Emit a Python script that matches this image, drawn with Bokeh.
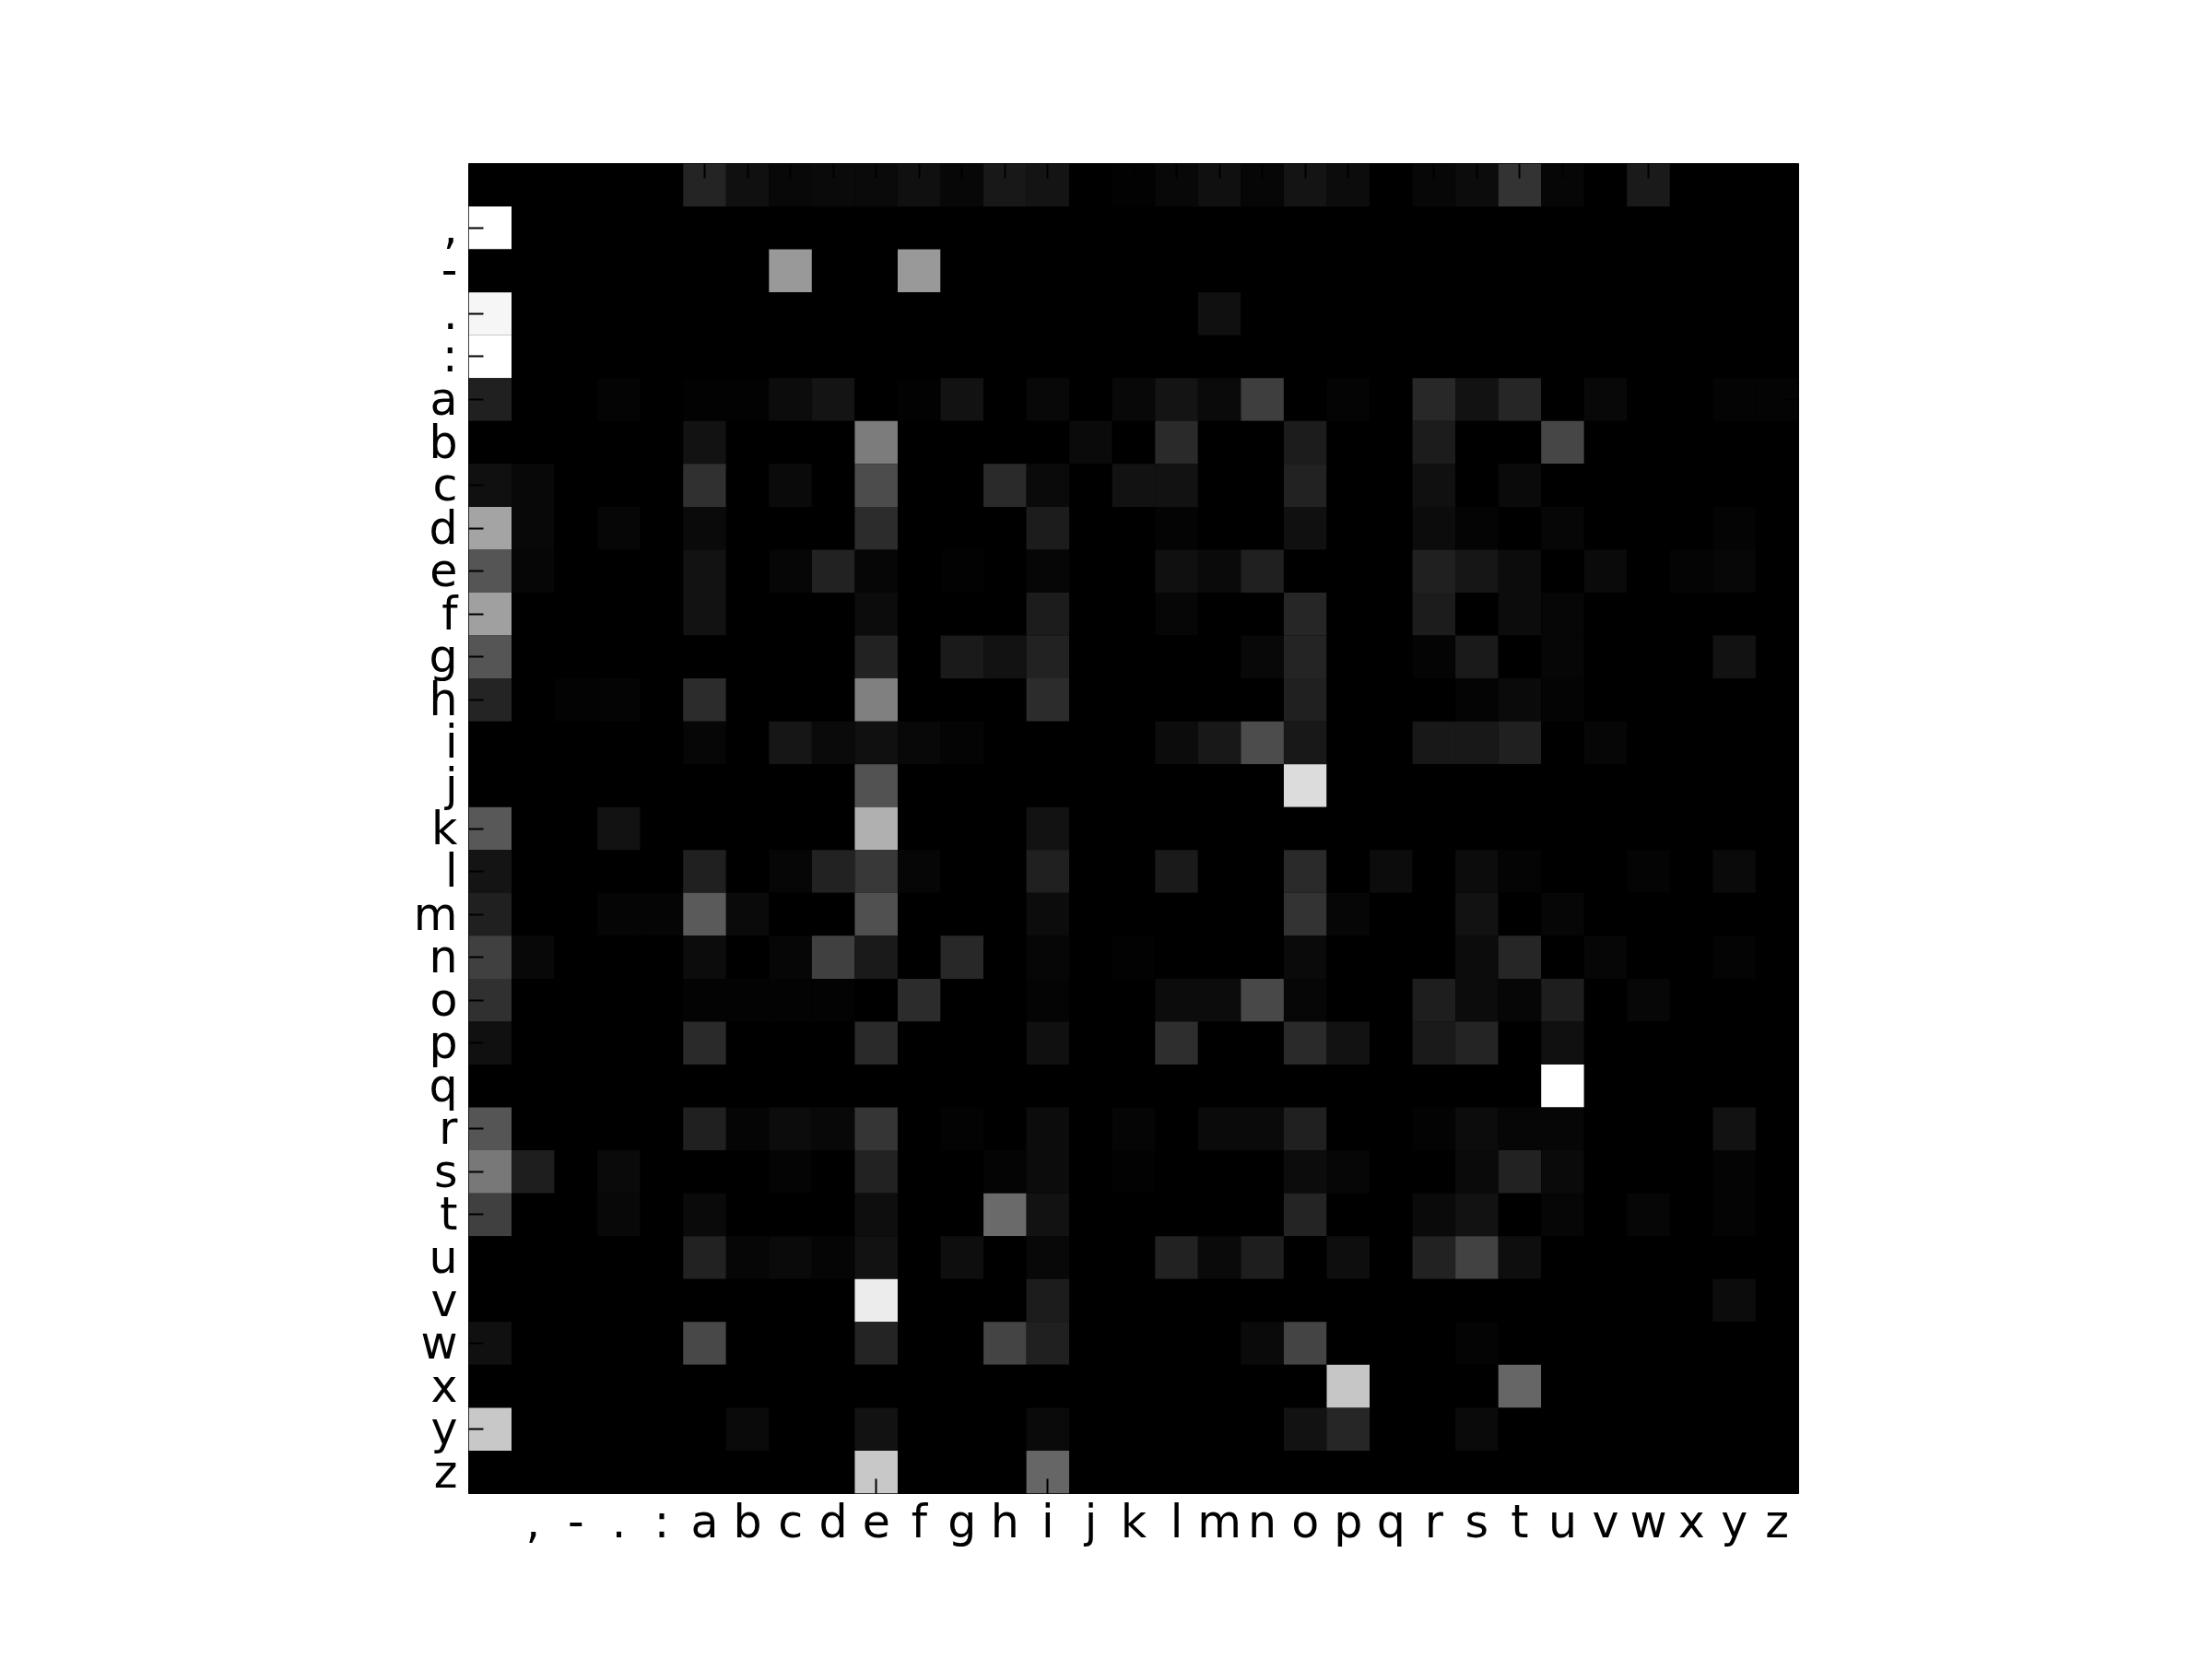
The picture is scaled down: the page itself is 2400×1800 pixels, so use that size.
from bokeh.plotting import figure
from bokeh.models import Range1d, FixedTicker, LinearAxis, ColumnDataSource, LinearColorMapper
from bokeh.embed import file_html
from bokeh.resources import INLINE

# characters (row = current char, column = next char); first is the space
chars = [" ", ",", "-", ".", ":"] + list("abcdefghijklmnopqrstuvwxyz")

# intensity of each transition (0 = black, 255 = white)
#            ' '  ,   -   .   :   a   b   c   d   e   f   g   h   i   j   k   l   m   n   o   p   q   r   s   t   u   v   w   x   y   z
row_space = [0,   0,  0,  0,  0, 36, 16,  8, 10, 10, 16,  7, 24, 20,  0,  2,  8, 16,  6, 20, 12,  0,  7, 12, 51,  6,  0, 26,  0,  0,  0]
row_comma = [255, 0,  0,  0,  0,  0,  0,  0,  0,  0,  0,  0,  0,  0,  0,  0,  0,  0,  0,  0,  0,  0,  0,  0,  0,  0,  0,  0,  0,  0,  0]
row_dash  = [0,   0,  0,  0,  0,  0,  0,153,  0,  0,153,  0,  0,  0,  0,  0,  0,  0,  0,  0,  0,  0,  0,  0,  0,  0,  0,  0,  0,  0,  0]
row_dot   = [246, 0,  0,  0,  0,  0,  0,  0,  0,  0,  0,  0,  0,  0,  0,  0,  0, 16,  0,  0,  0,  0,  0,  0,  0,  0,  0,  0,  0,  0,  0]
row_colon = [255, 0,  0,  0,  0,  0,  0,  0,  0,  0,  0,  0,  0,  0,  0,  0,  0,  0,  0,  0,  0,  0,  0,  0,  0,  0,  0,  0,  0,  0,  0]
row_a     = [32,  0,  0,  4,  0,  2,  2, 12, 20,  0,  2, 18,  0,  8,  0,  8, 20, 10, 62,  0,  4,  0, 40, 18, 38,  0,  8,  0,  0,  4,  4]
row_b     = [0,   0,  0,  0,  0, 18,  0,  0,  0,124,  0,  0,  0,  0, 10,  0, 42,  0,  0, 28,  0,  0, 28,  0,  0, 70,  0,  0,  0,  0,  0]
row_c     = [16,  8,  0,  0,  0, 48,  0, 10,  0, 76,  0,  0, 42, 10,  0, 18, 18,  0,  0, 34,  0,  0, 16,  0, 10,  0,  0,  0,  0,  0,  0]
row_d     = [164, 8,  0,  6,  0, 10,  0,  0,  0, 44,  0,  0,  0, 28,  0,  0,  4,  0,  0, 16,  0,  0, 12,  4,  0,  6,  0,  0,  0,  4,  0]
row_e     = [85,  6,  0,  0,  0, 18,  0,  6, 34,  6,  0,  2,  0,  6,  0,  0, 16, 10, 32,  0,  0,  0, 32, 22, 12,  0, 10,  0,  4,  7,  0]
row_f     = [160, 0,  0,  0,  0, 18,  0,  0,  0, 12,  0,  0,  0, 28,  0,  0,  6,  0,  0, 38,  0,  0, 28,  0, 12,  6,  0,  0,  0,  0,  0]
row_g     = [85,  0,  0,  0,  0,  0,  0,  0,  0, 34,  0, 26, 18, 34,  0,  0,  0,  0,  8, 36,  0,  0,  4, 26,  0,  6,  0,  0,  0, 18,  0]
row_h     = [36,  0,  3,  4,  0, 44,  0,  0,  0,128,  0,  0,  0, 44,  0,  0,  0,  0,  0, 32,  0,  0,  0,  4, 10,  4,  0,  0,  0,  0,  0]
row_i     = [0,   0,  0,  0,  0,  6,  0, 22, 10, 16,  8,  4,  0,  0,  0,  0, 12, 24, 76, 24,  0,  0, 24, 24, 32,  0,  6,  0,  0,  0,  0]
row_j     = [0,   0,  0,  0,  0,  0,  0,  0,  0, 82,  0,  0,  0,  0,  0,  0,  0,  0,  0,220,  0,  0,  0,  0,  0,  0,  0,  0,  0,  0,  0]
row_k     = [88,  0,  0, 18,  0,  0,  0,  0,  0,176,  0,  0,  0, 18,  0,  0,  0,  0,  0,  0,  0,  0,  0,  0,  0,  0,  0,  0,  0,  0,  0]
row_l     = [20,  0,  0,  0,  0, 32,  0,  6, 34, 56,  6,  0,  0, 32,  0,  0, 26,  0,  0, 42,  0, 12,  0, 12,  4,  0,  0,  4,  0, 10,  0]
row_m     = [32,  0,  0,  5,  5, 90, 10,  0,  0, 80,  0,  0,  0, 12,  0,  0,  0,  0,  0, 51,  6,  0,  0, 18,  0,  6,  0,  0,  0,  0,  0]
row_n     = [64,  8,  0,  0,  0, 12,  0,  6, 64, 26,  0, 40,  0,  6,  0,  2,  0,  0,  0, 10,  0,  0,  0, 12, 38,  0,  6,  0,  0,  4,  0]
row_o     = [48,  0,  0,  0,  0,  3,  3,  3,  3,  0, 44,  0,  0,  4,  0,  0, 12, 12, 72,  6,  0,  0, 30, 12,  6, 30,  0,  7,  0,  0,  0]
row_p     = [16,  0,  0,  0,  0, 42,  0,  0,  0, 42,  0,  0,  0, 16,  0,  0, 46,  0,  0, 42, 18,  0, 26, 36,  0, 16,  0,  0,  0,  0,  0]
row_q     = [0,   0,  0,  0,  0,  0,  0,  0,  0,  0,  0,  0,  0,  0,  0,  0,  0,  0,  0,  0,  0,  0,  0,  0,  0,255,  0,  0,  0,  0,  0]
row_r     = [85,  0,  0,  0,  0, 32,  5, 12,  8, 53,  0,  3,  0, 12,  0,  5,  0, 10, 10, 32,  0,  0,  3, 12,  6,  6,  0,  0,  0, 18,  0]
row_s     = [120,30,  0, 10,  0,  0,  0,  4,  0, 34,  0,  0,  4, 12,  0,  2,  0,  0,  0, 12,  6,  0,  0, 10, 34, 10,  0,  0,  0,  4,  0]
row_t     = [64,  0,  0,  8,  0, 10,  0,  0,  0, 14,  0,  0,106, 18,  0,  0,  0,  0,  0, 36,  0,  0, 10, 18,  0,  6,  0,  6,  0,  4,  0]
row_u     = [0,   0,  0,  0,  0, 34,  6, 10,  5, 18,  0, 14,  0,  8,  0,  0, 34, 10, 30,  0, 14,  0, 34, 66, 14,  0,  0,  0,  0,  0,  0]
row_v     = [0,   0,  0,  0,  0,  0,  0,  0,  0,236,  0,  0,  0, 28,  0,  0,  0,  0,  0,  0,  0,  0,  0,  0,  0,  0,  0,  0,  0, 12,  0]
row_w     = [16,  0,  0,  0,  0, 72,  0,  0,  0, 36,  0,  0, 68, 32,  0,  0,  0,  0, 10, 68,  0,  0,  0,  4,  0,  0,  0,  0,  0,  0,  0]
row_x     = [0,   0,  0,  0,  0,  0,  0,  0,  0,  0,  0,  0,  0,  0,  0,  0,  0,  0,  0,  0,198,  0,  0,  0,102,  0,  0,  0,  0,  0,  0]
row_y     = [200, 0,  0,  0,  0,  0, 10,  0,  0, 18,  0,  0,  0, 10,  0,  0,  0,  0,  0, 18, 38,  0,  0, 10,  0,  0,  0,  0,  0,  0,  0]
row_z     = [0,   0,  0,  0,  0,  0,  0,  0,  0,200,  0,  0,  0,102,  0,  0,  0,  0,  0,  0,  0,  0,  0,  0,  0,  0,  0,  0,  0,  0,  0]

rows = [row_space, row_comma, row_dash, row_dot, row_colon, row_a, row_b, row_c, row_d, row_e,
        row_f, row_g, row_h, row_i, row_j, row_k, row_l, row_m, row_n, row_o, row_p, row_q,
        row_r, row_s, row_t, row_u, row_v, row_w, row_x, row_y, row_z]

n = len(chars)
xs, ys, vals = [], [], []
for r, row in enumerate(rows):
    for c, v in enumerate(row):
        xs.append(c)
        ys.append(n - 1 - r)
        vals.append(v / 255.0)

src = ColumnDataSource(dict(x=xs, y=ys, v=vals))
palette = ["#%02x%02x%02x" % (i, i, i) for i in range(256)]
mapper = LinearColorMapper(palette=palette, low=0.0, high=1.0)

p = figure(width=2400, height=1800, output_backend="svg", toolbar_location=None,
           x_range=Range1d(-0.5, n - 0.5), y_range=Range1d(-0.5, n - 0.5),
           x_axis_location=None, y_axis_location=None,
           min_border_left=508, min_border_right=449, min_border_top=177, min_border_bottom=180)
p.background_fill_color = "black"
p.border_fill_color = "white"
p.outline_line_color = "black"
p.outline_line_width = 1
p.grid.visible = False

p.rect(x="x", y="y", width=1, height=1, source=src,
       fill_color={"field": "v", "transform": mapper}, line_color=None)

ticks = list(range(n))
xlab = {i: chars[i] for i in range(n)}
ylab = {n - 1 - i: chars[i] for i in range(n)}


def make_axis(overrides, show):
    ax = LinearAxis(ticker=FixedTicker(ticks=ticks), major_label_overrides=overrides)
    ax.major_tick_in = 16
    ax.major_tick_out = 0
    ax.major_tick_line_color = "black"
    ax.major_tick_line_width = 2
    ax.minor_tick_line_color = None
    ax.axis_line_color = None
    ax.major_label_text_font = "DejaVu Sans"
    ax.major_label_text_color = "black"
    if show:
        ax.major_label_text_font_size = "49px"
    else:
        ax.major_label_text_font_size = "1px"
        ax.major_label_text_alpha = 0
    return ax


bottom = make_axis(xlab, True)
bottom.major_label_standoff = 2
left = make_axis(ylab, True)
left.major_label_standoff = 12
top = make_axis(xlab, False)
right = make_axis(ylab, False)
p.add_layout(bottom, "below")
p.add_layout(left, "left")
p.add_layout(top, "above")
p.add_layout(right, "right")

open("out.html", "w").write(file_html(p, INLINE))
